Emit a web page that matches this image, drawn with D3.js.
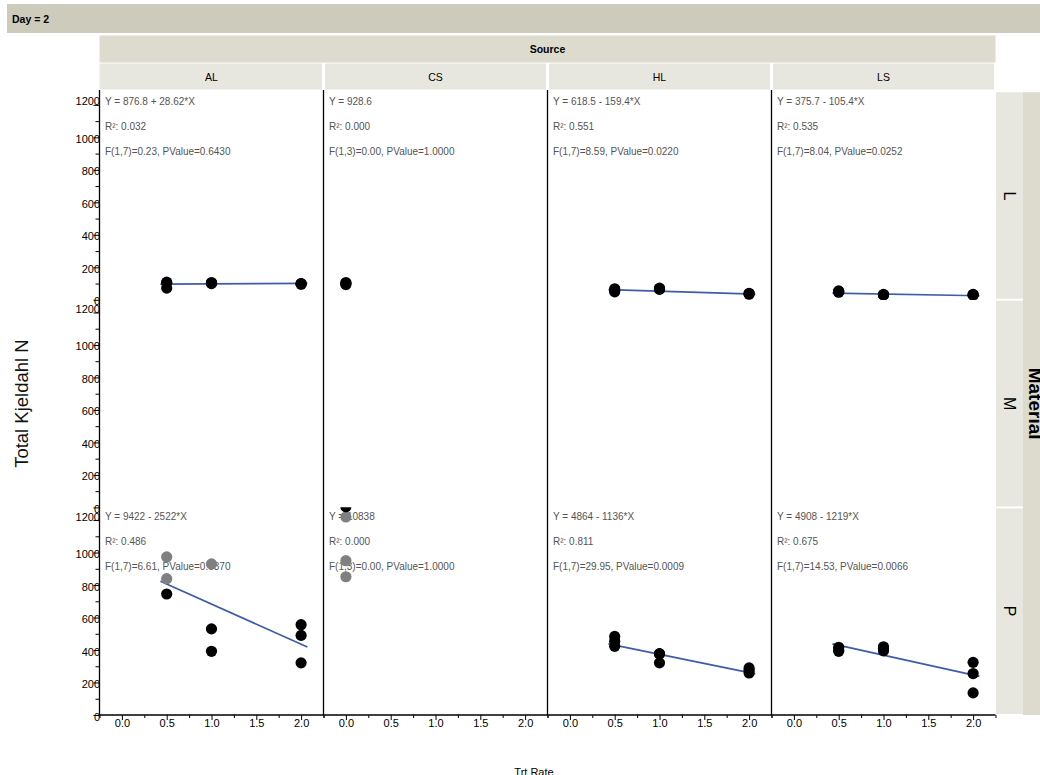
<!DOCTYPE html>
<html>
<head>
<meta charset="utf-8">
<script src="https://cdn.jsdelivr.net/npm/d3@7"></script>
<style>
  body { margin: 0; background: #fff; }
  svg { display: block; font-family: "Liberation Sans", Arial, sans-serif; }
</style>
</head>
<body>
<svg id="chart" width="1040" height="775"></svg>
<script>
// ---- data -------------------------------------------------------------
const sources = ["AL", "CS", "HL", "LS"];
const materials = ["L", "M", "P"];
const yTicks = [0, 200, 400, 600, 800, 1000, 1200];
const yMinorTicks = [100, 300, 500, 700, 900, 1100];
const xTicks = [0, 0.5, 1, 1.5, 2];
const xMinorTicks = [-0.25, 0.25, 0.75, 1.25, 1.75, 2.25];
const xDomain = [-0.25, 2.25];
const yDomain = [0, 1278];

// observations per panel: [Trt Rate, Total Kjeldahl N]
const alL = [[0.5, 109], [0.5, 104], [0.5, 72], [1, 106], [1, 103], [1, 100], [2, 100], [2, 98], [2, 96]];
const csL = [[0, 106], [0, 100], [0, 94]];
const hlL = [[0.5, 68], [0.5, 57], [0.5, 49], [1, 72], [1, 68], [1, 64], [2, 40], [2, 37], [2, 34]];
const lsL = [[0.5, 55], [0.5, 50], [0.5, 47], [1, 33], [1, 31], [1, 29], [2, 33], [2, 31], [2, 28]];
const alP = [[0.5, 745], [1, 530], [1, 392], [2, 556], [2, 490], [2, 321]];
const csP = [[0, 1282], [0, 1290]];
const hlP = [[0.5, 484], [0.5, 454], [0.5, 423], [1, 378], [1, 376], [1, 321], [2, 290], [2, 275], [2, 259]];
const lsP = [[0.5, 417], [0.5, 400], [0.5, 392], [1, 420], [1, 410], [1, 395], [2, 324], [2, 255], [2, 136]];
// excluded rows (drawn in grey)
const alPExcluded = [[0.5, 973], [0.5, 839], [1, 930]];
const csPExcluded = [[0, 1219], [0, 950], [0, 851]];

// fitted lines: value at the low and high end of the fitted range
const fitKeys = ["AL|L", "HL|L", "LS|L", "AL|P", "HL|P", "LS|P"];
const fitRange = [0.43, 2.07];
const fitLow = [96, 63, 41, 823, 438, 438];
const fitHigh = [101, 35, 25, 419, 253, 238];

// fit report text per panel
const statKeys = ["AL|L", "CS|L", "HL|L", "LS|L", "AL|P", "CS|P", "HL|P", "LS|P"];
const statEquation = ["Y = 876.8 + 28.62*X", "Y = 928.6", "Y = 618.5 - 159.4*X", "Y = 375.7 - 105.4*X",
                      "Y = 9422 - 2522*X", "Y = 10838", "Y = 4864 - 1136*X", "Y = 4908 - 1219*X"];
const statR2 = ["0.032", "0.000", "0.551", "0.535", "0.486", "0.000", "0.811", "0.675"];
const statF = ["F(1,7)=0.23, PValue=0.6430", "F(1,3)=0.00, PValue=1.0000", "F(1,7)=8.59, PValue=0.0220",
               "F(1,7)=8.04, PValue=0.0252", "F(1,7)=6.61, PValue=0.0370", "F(1,3)=0.00, PValue=1.0000",
               "F(1,7)=29.95, PValue=0.0009", "F(1,7)=14.53, PValue=0.0066"];

const panelPoints = {
  "AL|L": alL, "CS|L": csL, "HL|L": hlL, "LS|L": lsL,
  "AL|P": alP, "CS|P": csP, "HL|P": hlP, "LS|P": lsP
};
const panelExcluded = { "AL|P": alPExcluded, "CS|P": csPExcluded };

// ---- layout -----------------------------------------------------------
const svg = d3.select("#chart");
const plotLeft = 99.5, colW = 224, plotTop = 90, rowTop0 = 92.2, rowH = 207.6;
const plotRight = plotLeft + colW * sources.length;
const plotBottom = rowTop0 + rowH * materials.length;
const bandDark = "#cdcbbc", bandMid = "#dcdbcd", bandLight = "#e8e7df";

const x = d3.scaleLinear().domain(xDomain).range([0, colW]);
const y = d3.scaleLinear().domain(yDomain).range([rowH, 0]);

// ---- header bands -----------------------------------------------------
svg.append("rect").attr("x", 7).attr("y", 4).attr("width", 1033).attr("height", 29).attr("fill", bandDark);
svg.append("text").attr("x", 12).attr("y", 18.5).attr("dominant-baseline", "central")
  .attr("font-size", 10.5).attr("font-weight", "bold").text("Day = 2");

svg.append("rect").attr("x", plotLeft).attr("y", 35.5).attr("width", plotRight - plotLeft).attr("height", 27)
  .attr("fill", bandMid);
svg.append("text").attr("x", (plotLeft + plotRight) / 2).attr("y", 49).attr("text-anchor", "middle")
  .attr("dominant-baseline", "central").attr("font-size", 10.5).attr("font-weight", "bold").text("Source");

sources.forEach((s, ci) => {
  const left = plotLeft + ci * colW;
  svg.append("rect").attr("x", left + (ci ? 1.5 : 0)).attr("y", 63.5)
    .attr("width", colW - (ci ? 3 : 1.5)).attr("height", 26).attr("fill", bandLight);
  svg.append("text").attr("x", left + colW / 2).attr("y", 76.5).attr("text-anchor", "middle")
    .attr("dominant-baseline", "central").attr("font-size", 10.5).text(s);
});

// right strip: Material
svg.append("rect").attr("x", 1023).attr("y", rowTop0).attr("width", 17).attr("height", plotBottom - rowTop0)
  .attr("fill", bandMid);
svg.append("text").attr("transform", `translate(1028.5,${rowTop0 + rowH * 1.5}) rotate(90)`)
  .attr("text-anchor", "middle").attr("font-size", 19).attr("font-weight", "bold").text("Material");

materials.forEach((m, ri) => {
  const top = rowTop0 + ri * rowH;
  svg.append("rect").attr("x", plotRight + 0.5).attr("y", top + (ri ? 1 : 0)).attr("width", 27)
    .attr("height", rowH - (ri ? 2 : 1)).attr("fill", bandLight);
  svg.append("text").attr("transform", `translate(${plotRight + 14},${top + rowH / 2}) rotate(90)`)
    .attr("text-anchor", "middle").attr("dominant-baseline", "central").attr("font-size", 16).text(m);
});

// ---- panels -----------------------------------------------------------
const defs = svg.append("defs");
materials.forEach((mat, ri) => {
  const top = rowTop0 + ri * rowH;
  sources.forEach((src, ci) => {
    const left = plotLeft + ci * colW;
    const key = src + "|" + mat;
    const clipId = `clip-${src}-${mat}`;
    defs.append("clipPath").attr("id", clipId)
      .append("rect").attr("x", 0).attr("y", 0).attr("width", colW).attr("height", rowH);

    const g = svg.append("g").attr("transform", `translate(${left},${top})`);
    const inner = g.append("g").attr("clip-path", `url(#${clipId})`);

    const si = statKeys.indexOf(key);
    if (si >= 0) {
      const lines = [statEquation[si], "R\u00b2: " + statR2[si], statF[si]];
      inner.selectAll("text.stat").data(lines).join("text")
        .attr("class", "stat")
        .attr("x", 5.5).attr("y", (d, i) => 9.3 + i * 25)
        .attr("dominant-baseline", "central").attr("font-size", 10).attr("fill", "#555")
        .text(d => d);
    }

    const fi = fitKeys.indexOf(key);
    if (fi >= 0) {
      inner.append("line")
        .attr("x1", x(fitRange[0])).attr("y1", y(fitLow[fi]))
        .attr("x2", x(fitRange[1])).attr("y2", y(fitHigh[fi]))
        .attr("stroke", "#3d5ca9").attr("stroke-width", 1.7);
    }

    inner.selectAll("circle.ex").data(panelExcluded[key] || []).join("circle")
      .attr("class", "ex").attr("cx", d => x(d[0])).attr("cy", d => y(d[1]))
      .attr("r", 5.6).attr("fill", "#808080");
    inner.selectAll("circle.pt").data(panelPoints[key] || []).join("circle")
      .attr("class", "pt").attr("cx", d => x(d[0])).attr("cy", d => y(d[1]))
      .attr("r", 5.6).attr("fill", "#000");
  });

  // y axis of this row
  const ay = svg.append("g").attr("transform", `translate(${plotLeft},${top})`);
  ay.append("g").call(d3.axisLeft(y).tickValues(yMinorTicks).tickSize(4).tickFormat(""))
    .call(a => a.select(".domain").remove());
  ay.append("g").call(d3.axisLeft(y).tickValues(yTicks).tickSize(6).tickPadding(-6.5).tickFormat(d3.format("d")))
    .call(a => a.select(".domain").remove())
    .call(a => a.selectAll("text").attr("font-size", 11).attr("font-family", null).attr("fill", "#000")
      .attr("y", d => d === yTicks[yTicks.length - 1] ? -3.5 : 1.5));
});

// x axes
sources.forEach((src, ci) => {
  const left = plotLeft + ci * colW;
  const ax = svg.append("g").attr("transform", `translate(${left},${plotBottom})`);
  ax.append("g").call(d3.axisBottom(x).tickValues(xMinorTicks).tickSize(3).tickFormat(""))
    .call(a => a.select(".domain").remove());
  ax.append("g").call(d3.axisBottom(x).tickValues(xTicks).tickSize(5).tickPadding(-0.5).tickFormat(d3.format(".1f")))
    .call(a => a.select(".domain").remove())
    .call(a => a.selectAll("text").attr("font-size", 11).attr("font-family", null).attr("fill", "#000"));
});

// frame lines: y axis, column separators, x axis
sources.forEach((src, ci) => {
  const xx = plotLeft + ci * colW;
  svg.append("line").attr("x1", xx).attr("x2", xx).attr("y1", plotTop).attr("y2", plotBottom)
    .attr("stroke", "#000").attr("stroke-width", 1.3);
});
svg.append("line").attr("x1", plotLeft).attr("x2", plotRight).attr("y1", plotBottom).attr("y2", plotBottom)
  .attr("stroke", "#000").attr("stroke-width", 1.3);

// axis titles
svg.append("text").attr("transform", `translate(21,${rowTop0 + rowH * 1.5}) rotate(-90)`)
  .attr("text-anchor", "middle").attr("dominant-baseline", "central").attr("font-size", 18.5)
  .attr("fill", "#111").text("Total Kjeldahl N");
svg.append("text").attr("x", 534).attr("y", 775.5).attr("text-anchor", "middle")
  .attr("font-size", 11).text("Trt Rate");
</script>
</body>
</html>
